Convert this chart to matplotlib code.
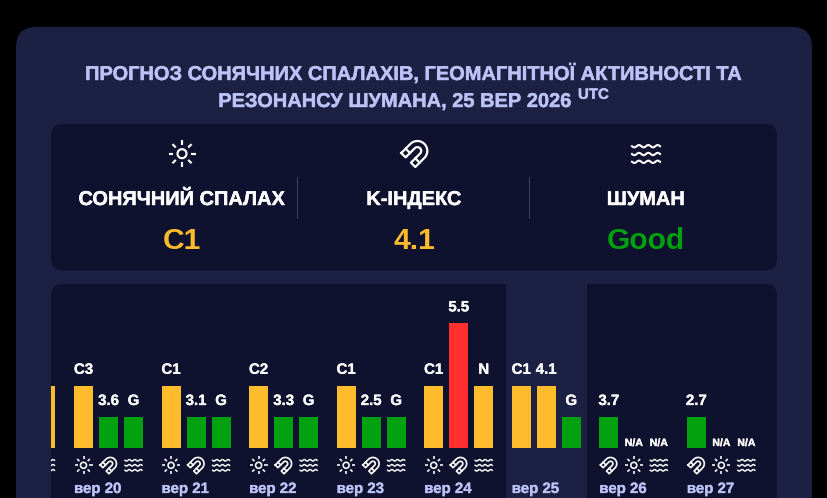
"""
Ukrainian solar flare / K-index / Schumann forecast card, redrawn with
a pixel-space overlay for the card and a second axes for the bars.
"""

import numpy as np
import matplotlib
matplotlib.use("Agg")
import matplotlib.pyplot as plt
import matplotlib.patheffects as pe
from matplotlib.patches import FancyBboxPatch, Rectangle, Circle
from matplotlib.transforms import ScaledTranslation

plt.rcParams['font.family'] = ['Liberation Sans', 'DejaVu Sans']

# header
TITLE_1 = "ПРОГНОЗ СОНЯЧНИХ СПАЛАХІВ, ГЕОМАГНІТНОЇ АКТИВНОСТІ ТА"
TITLE_2 = "РЕЗОНАНСУ ШУМАНА, 25 ВЕР 2026"
HEAD_NAMES = ["СОНЯЧНИЙ СПАЛАХ", "K-ІНДЕКС", "ШУМАН"]
HEAD_VALUES = ["C1", "4.1", "Good"]

# days, index 0 is вер 20; index -1 is the group the panel cuts off,
# only its last bar and icon can be seen
DAY_IDX = [-1, 0, 1, 2, 3, 4, 5, 6, 7]
DAY_LABELS = ["", "вер 20", "вер 21", "вер 22", "вер 23",
              "вер 24", "вер 25", "вер 26", "вер 27"]
TODAY_IDX = 5

# one list per slot in each day group: label, level (0 = no bar), icon
SLOT1_LABELS = ["", "C3", "C1", "C2", "C1", "C1", "C1", "3.7", "2.7"]
SLOT1_LEVELS = [0, 2, 2, 2, 2, 2, 2, 1, 1]
SLOT1_ICONS = ["", "sun", "sun", "sun", "sun", "sun", "sun", "magnet", "magnet"]

SLOT2_LABELS = ["", "3.6", "3.1", "3.3", "2.5", "5.5", "4.1", "N/A", "N/A"]
SLOT2_LEVELS = [0, 1, 1, 1, 1, 4, 2, 0, 0]
SLOT2_ICONS = ["", "magnet", "magnet", "magnet", "magnet", "magnet", "magnet", "sun", "sun"]

SLOT3_LABELS = ["", "G", "G", "G", "G", "N", "G", "N/A", "N/A"]
SLOT3_LEVELS = [2, 1, 1, 1, 1, 2, 1, 0, 0]
SLOT3_ICONS = ["waves"] * 9

BLACK = '#000000'
CARD = '#1c2042'
PANEL = '#0f122e'
TITLE_C = '#bcc2f5'
DIVIDER = '#3c3f70'
LEVEL_COLORS = {0: '#00a00e', 1: '#00a00e', 2: '#febc2c', 4: '#ff2f2f'}

W, H = 827, 498
# bar geometry in pixels
X0, DAY_STEP, SLOT_STEP, BAR_W = 74.0, 87.55, 25.0, 19.0
BASE_Y, LEVEL_PX = 448.0, 31.2
PANEL_X0, PANEL_X1, PANEL_Y0 = 51.0, 777.0, 284.0


def heavy(color, width=0.3):
    # browser text comes out a bit heavier than agg text
    return [pe.withStroke(linewidth=width, foreground=color)]


def draw_sun(ax, cx, cy, r, clip=None, lw=1.3):
    arts = [ax.add_patch(Circle((cx, cy), r, fill=False, ec='white', lw=lw))]
    for i in range(8):
        a = i * np.pi / 4
        ri, ro = r * 1.95, r * 3.0
        arts.append(ax.plot([cx + ri * np.cos(a), cx + ro * np.cos(a)],
                            [cy + ri * np.sin(a), cy + ro * np.sin(a)],
                            color='white', lw=lw, solid_capstyle='butt')[0])
    if clip is not None:
        for a in arts:
            a.set_clip_path(clip)


def draw_magnet(ax, cx, cy, s, clip=None, lw=1.1):
    # horseshoe opening to the lower left; (cx, cy) is the middle of the arch
    r = 0.38
    tip, cut = -1.3, -0.68
    t = np.linspace(np.pi, 0, 24)
    xs = np.r_[-1, np.cos(t), 1, r, r * np.cos(t[::-1]), -r, -1]
    ys = np.r_[tip, np.sin(t), tip, tip, r * np.sin(t[::-1]), tip, tip]
    segs = [(xs, ys), (np.array([-1, -r]), np.array([cut, cut])),
            (np.array([r, 1]), np.array([cut, cut]))]
    c, sn = np.cos(-np.pi / 4), np.sin(-np.pi / 4)
    for x, y in segs:
        xr = x * c - y * sn
        yr = x * sn + y * c
        ln, = ax.plot(cx + s * xr, cy - s * yr, color='white', lw=lw,
                      solid_joinstyle='round')
        if clip is not None:
            ln.set_clip_path(clip)


def draw_waves(ax, cx, cy, w, gap, clip=None, lw=1.2):
    x = np.linspace(-1, 1, 60)
    y = np.sin(x * 1.5 * 2 * np.pi) * gap * 0.15
    for k in (-1, 0, 1):
        ln, = ax.plot(cx + x * w / 2, cy + k * gap - y, color='white', lw=lw)
        if clip is not None:
            ln.set_clip_path(clip)


def round_box(ax, x0, y0, x1, y1, rad, color):
    p = FancyBboxPatch((x0 + rad, y0 + rad), x1 - x0 - 2 * rad, y1 - y0 - 2 * rad,
                       boxstyle=f"round,pad={rad},rounding_size={rad}",
                       fc=color, ec='none', lw=0)
    ax.add_patch(p)
    return p


def main():
    fig = plt.figure(figsize=(W / 100, H / 100), dpi=100, facecolor=BLACK)

    # pixel-space axes for the card, the header and the icons
    bg = fig.add_axes([0, 0, 1, 1])
    bg.set_xlim(0, W)
    bg.set_ylim(H, 0)
    bg.axis('off')

    round_box(bg, 16, 27, 812, 560, 20, CARD)
    bg.text(414, 80, TITLE_1, color=TITLE_C, fontsize=14.42, fontweight='bold',
            ha='center', va='baseline', path_effects=heavy(TITLE_C))
    bg.text(571.5, 107, TITLE_2, color=TITLE_C, fontsize=14.42, fontweight='bold',
            ha='right', va='baseline', path_effects=heavy(TITLE_C))
    bg.text(578, 98.8, "UTC", color=TITLE_C, fontsize=10.8, fontweight='bold',
            ha='left', va='baseline', path_effects=heavy(TITLE_C))

    round_box(bg, 51, 124, 777, 270.5, 12, PANEL)
    head_x = [182, 414, 646]
    head_colors = [LEVEL_COLORS[2], LEVEL_COLORS[2], LEVEL_COLORS[1]]
    for x, name, val, col in zip(head_x, HEAD_NAMES, HEAD_VALUES, head_colors):
        bg.text(x, 205, name, color='white', fontsize=14.4, fontweight='bold',
                ha='center', va='baseline', path_effects=heavy('white'))
        bg.text(x, 249.3, val, color=col, fontsize=21.6, fontweight='bold',
                ha='center', va='baseline')
    for x in (297.2, 529.2):
        bg.plot([x, x], [177, 218], color=DIVIDER, lw=0.75)
    draw_sun(bg, 182, 153.7, 4.5, lw=1.55)
    draw_magnet(bg, 417.4, 150.9, 9.9, lw=1.6)
    draw_waves(bg, 646, 154, 28, 7.8, lw=1.5)

    panel = round_box(bg, PANEL_X0, PANEL_Y0, PANEL_X1, 560, 12, PANEL)

    # bars: x is in days, y is in levels
    ax = fig.add_axes([PANEL_X0 / W, 0, (PANEL_X1 - PANEL_X0) / W, (H - PANEL_Y0) / H])
    ax.patch.set_alpha(0)
    ax.axis('off')
    ax.set_xlim((PANEL_X0 - X0) / DAY_STEP, (PANEL_X1 - X0) / DAY_STEP)
    ax.set_ylim((BASE_Y - H) / LEVEL_PX, (BASE_Y - PANEL_Y0) / LEVEL_PX)

    ax.add_patch(Rectangle((TODAY_IDX - 6 / DAY_STEP, ax.get_ylim()[0]),
                           81 / DAY_STEP, ax.get_ylim()[1] - ax.get_ylim()[0],
                           fc=CARD, ec='none', zorder=0))

    slots = [(SLOT1_LABELS, SLOT1_LEVELS, SLOT1_ICONS),
             (SLOT2_LABELS, SLOT2_LEVELS, SLOT2_ICONS),
             (SLOT3_LABELS, SLOT3_LEVELS, SLOT3_ICONS)]

    for s, (labels, levels, icons) in enumerate(slots):
        xs = np.array(DAY_IDX) + s * SLOT_STEP / DAY_STEP
        cols = [LEVEL_COLORS[v] for v in levels]
        ax.bar(xs, levels, width=BAR_W / DAY_STEP, align='edge', color=cols, zorder=2)
        for x, lab, lev, icon in zip(xs, labels, levels, icons):
            mid = x + BAR_W / 2 / DAY_STEP
            na = lab == "N/A"
            if lab:
                shift = ScaledTranslation(0, (2.0 if na else 11.8) / 100, fig.dpi_scale_trans)
                ax.text(mid, lev, lab, color='white', fontweight='bold',
                        fontsize=7.6 if na else 10.8, ha='center', va='baseline',
                        transform=ax.transData + shift, zorder=3,
                        path_effects=heavy('white', 0.2))
            px = X0 + mid * DAY_STEP
            if icon == "sun":
                draw_sun(bg, px, 465.3, 3.0, clip=panel, lw=1.15)
            elif icon == "magnet":
                draw_magnet(bg, px + 1.75, 463.65, 6.2, clip=panel, lw=1.2)
            elif icon == "waves":
                draw_waves(bg, px, 465.3, 17, 5.0, clip=panel, lw=1.05)

    for d, lab in zip(DAY_IDX, DAY_LABELS):
        if lab:
            ax.text(d, (BASE_Y - 493) / LEVEL_PX, lab, color=TITLE_C, fontsize=10.8,
                    fontweight='bold', ha='left', va='baseline', zorder=3,
                    path_effects=heavy(TITLE_C, 0.2))

    fig.savefig("out.png", dpi=100, facecolor=BLACK)


if __name__ == "__main__":
    main()
